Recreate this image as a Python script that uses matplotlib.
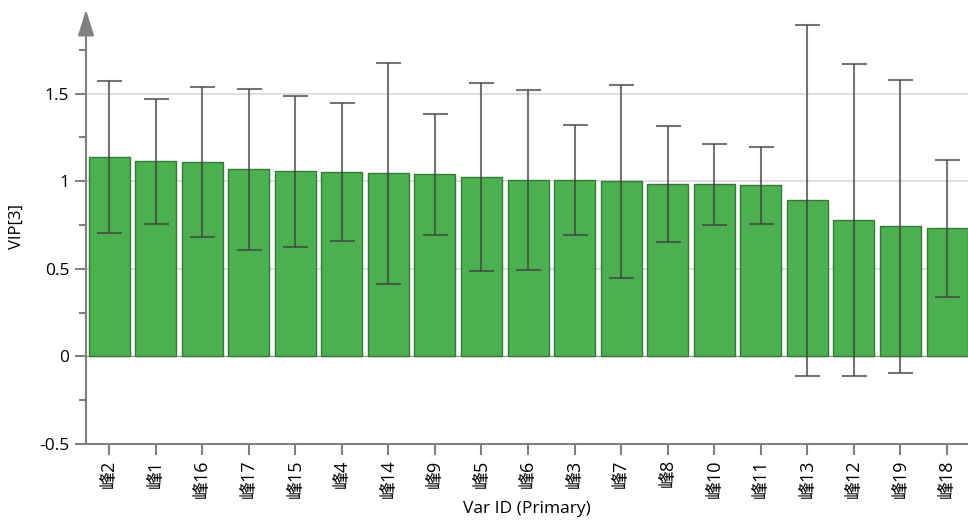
import numpy as np
import matplotlib
matplotlib.use('Agg')
import matplotlib.pyplot as plt

plt.rcParams['font.family'] = ['Open Sans', 'Noto Sans CJK SC', 'DejaVu Sans']

var_ids = ['峰2', '峰1', '峰16', '峰17', '峰15', '峰4', '峰14', '峰9', '峰5', '峰6',
           '峰3', '峰7', '峰8', '峰10', '峰11', '峰13', '峰12', '峰19', '峰18']
vip = [1.137, 1.114, 1.109, 1.069, 1.057, 1.051, 1.046, 1.040, 1.023, 1.006,
       1.006, 1.000, 0.983, 0.983, 0.977, 0.891, 0.777, 0.743, 0.731]
vip_err = [0.434, 0.357, 0.430, 0.460, 0.430, 0.394, 0.630, 0.346, 0.535, 0.514,
           0.315, 0.550, 0.332, 0.232, 0.220, 1.000, 0.890, 0.837, 0.390]
yticks = [-0.5, 0, 0.5, 1, 1.5]
ytick_labels = ['-0.5', '0', '0.5', '1', '1.5']

fig = plt.figure(figsize=(9.68, 5.2), dpi=100)
ax = fig.add_axes([86/968, 76/520, 1 - 86/968, 0.8355])

x = np.arange(len(var_ids))
for g in [0.5, 1, 1.5]:
    ax.axhline(g, color='#d9d9d9', lw=1.2, zorder=0)
ax.axhline(0, color='#9a9a9a', lw=1, zorder=0)

ax.bar(x, vip, width=0.88, color='#4caf50', edgecolor='#357a38', linewidth=1, zorder=2)
ax.errorbar(x, vip, yerr=vip_err, fmt='none', ecolor=(0.25, 0.25, 0.25, 0.72),
            elinewidth=1.5, capsize=9, capthick=1.5, zorder=3)

ax.set_xlim(-0.495, 18.45)
ax.set_ylim(-0.5, 1.98)

for s in ['top', 'right']:
    ax.spines[s].set_visible(False)
ax.spines['left'].set_color('#808080')
ax.spines['bottom'].set_color('#808080')
ax.spines['left'].set_linewidth(1.5)
ax.spines['bottom'].set_linewidth(1.5)
ax.spines['left'].set_bounds(-0.5, 1.86)

# arrow head on the y axis
ax.annotate('', xy=(0, 1.995), xytext=(0, 1.84), xycoords=('axes fraction', 'data'),
            arrowprops=dict(arrowstyle='-|>,head_length=1.6,head_width=0.5',
                            color='#808080', lw=1.5), annotation_clip=False)

ax.set_yticks(yticks)
ax.set_yticklabels(ytick_labels, fontsize=12.5)
ax.set_yticks([-0.25, 0.25, 0.75, 1.25, 1.75], minor=True)
ax.tick_params(axis='y', which='major', length=8, width=1.5, color='#808080', pad=4)
ax.tick_params(axis='y', which='minor', length=5, width=1.5, color='#808080')

ax.set_xticks(x)
ax.set_xticklabels(var_ids, rotation=90, fontsize=13, va='top', ha='center')
ax.tick_params(axis='x', length=8, width=1.5, color='#808080', pad=3)

ax.set_ylabel('VIP[3]', fontsize=12, labelpad=10)
ax.set_xlabel('Var ID (Primary)', fontsize=12.5, labelpad=2)

fig.savefig('out.png', dpi=100)
